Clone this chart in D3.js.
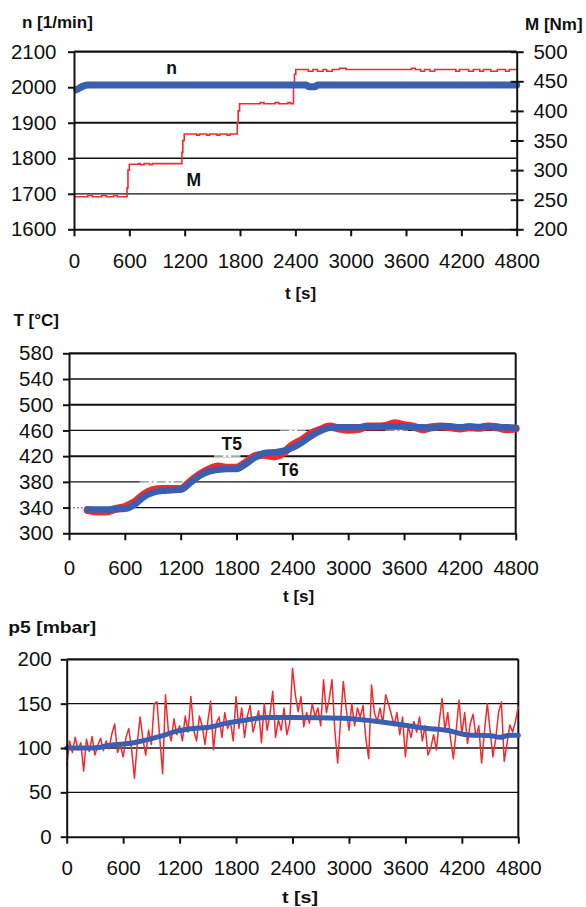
<!DOCTYPE html>
<html><head><meta charset="utf-8">
<script src="https://cdn.jsdelivr.net/npm/d3@7"></script>
<style>
html,body{margin:0;padding:0;background:#fff;}
svg{display:block;}
</style></head><body>
<svg id="c" width="586" height="907"></svg>
<script>
// ---------- DATA ----------
const timeTicks = [0,600,1200,1800,2400,3000,3600,4200,4800];

// Panel 1: speed n [1/min] (left) and torque M [Nm] (right)
const nTicks = [1600,1700,1800,1900,2000,2100];
const mTicks = [200,250,300,350,400,450,500];
const nTime  = [30,60,100,150,2520,2550,2610,2640,4800];
const nValue = [1993,1998,2003,2006,2006,2001,2001,2006,2006];
const mTime  = [0,150,200,300,350,430,470,560,575,585,600,700,720,760,820,850,1160,1170,1180,1195,
                1330,1360,1440,1470,1550,1580,1660,1690,1760,1770,1780,1795,2020,2060,2180,2220,2320,2350,
                2370,2380,2390,2405,2540,2590,2640,2700,2740,2800,2880,2950,3660,3700,3760,3800,3860,3910,
                4140,4180,4280,4330,4400,4440,4520,4590,4680,4720,4800];
const mValue = [255,257,255,257,255,257,255,255,270,300,310,311,309,311,309,311,311,330,350,361,
                359,361,359,361,359,361,359,361,361,380,400,412,414,412,414,412,414,412,
                412,440,462,470,467,470,467,470,467,470,472,470,472,470,467,470,467,470,
                467,470,467,470,467,470,467,470,467,470,470];

// Panel 2: temperatures T5 / T6 [°C]
const tempTicks = [300,340,380,420,460,500,540,580];
const tempTime  = [200,300,400,500,600,700,800,900,1000,1100,1200,1300,1400,1500,1600,1700,1800,1900,2000,
                   2100,2200,2300,2400,2500,2600,2700,2800,2900,3000,3100,3200,3300,3400,3500,3600,3700,
                   3800,3900,4000,4100,4200,4300,4400,4500,4600,4700,4800];
const t5Value = [336,334,334,338,341,348,360,367,369,369,369,380,391,399,404,402,402,410,420,
                 422,420,425,437,445,455,461,466,463,461,462,466,466,467,471,468,466,
                 462,465,466,465,463,465,464,466,465,462,463];
const t6Value = [337,337,337,337.5,338,344,356,363,366,367,368,378,389,396,399,400,400,408,418,
                 425,426,428,433,441,451,459,464,465,465,465,466,466,466,466,466,465,
                 465,464,466,466,465,466,465,466,465,465,464];
// leader segments drawn in grey on the grid of panel 2 (value, from t, to t)
const leaderValue = [340,380,420,460,460];
const leaderFrom  = [0,760,1560,2270,3400];
const leaderTo    = [230,1250,1840,2540,3640];

// Panel 3: pressure p5 [mbar]
const pTicks = [0,50,100,150,200];
const pStep = 30; // sampling interval [s]
const p5Raw = [80,108,95,112,98,106,74,110,96,113,92,103,111,97,108,99,116,127,95,104,
               90,112,122,98,66,105,135,110,92,120,104,150,152,110,71,160,120,108,133,115,
               125,108,136,118,158,120,108,136,125,104,130,153,98,128,135,112,140,122,130,108,
               158,122,145,112,136,148,118,130,142,106,150,120,138,164,112,132,120,145,115,128,
               190,160,141,158,124,140,128,150,135,145,125,177,140,155,177,120,83,130,175,145,
               120,150,125,145,135,148,110,88,171,140,130,145,128,160,150,138,125,140,115,135,
               90,125,112,130,118,135,108,125,92,100,115,98,130,156,120,140,110,88,120,154,
               115,140,105,128,138,112,125,83,118,150,120,90,110,140,152,85,105,126,118,130,147];
const pSmoothTime  = [0,280,460,710,990,1170,1350,1490,1700,1910,2120,2400,2940,3260,3580,3790,4040,4250,4530,4600,4710,4800];
const pSmoothValue = [100,100,103,106,113,119,122,123,128,131.5,134.5,134.5,133.5,130.5,126,122.5,120,115,113.5,112,114.5,114.5];

// ---------- DRAW ----------
const FONT = '"Liberation Sans", Arial, Helvetica, sans-serif';
const RED = '#f02a2e', BLUE = '#3a5eb0', INK = '#111';
const svg = d3.select('#c');

function styleAxis(g){
  g.attr('font-size',20.5).attr('font-family',FONT);
  g.select('.domain').attr('stroke',INK).attr('stroke-width',2);
  g.selectAll('.tick line').attr('stroke',INK).attr('stroke-width',2);
  g.selectAll('.tick text').attr('fill','#111');
}
function title(txt,x,y,opts={}){
  const t = svg.append('text').attr('x',x).attr('y',y).text(txt)
    .attr('font-family',FONT).attr('font-weight','bold').attr('font-size',opts.size||17).attr('fill','#111');
  if(opts.len) t.attr('textLength',opts.len).attr('lengthAdjust','spacingAndGlyphs');
  if(opts.anchor) t.attr('text-anchor',opts.anchor);
  return t;
}
function grid(x,y,vals,widths){
  vals.forEach((v,i)=>{
    svg.append('line').attr('x1',x.range()[0]).attr('x2',x.range()[1])
      .attr('y1',y(v)).attr('y2',y(v)).attr('stroke',INK).attr('stroke-width',widths[i]);
  });
}

// ===== Panel 1 =====
{
  const x = d3.scaleLinear().domain([0,4800]).range([74,516.7]);
  const yN = d3.scaleLinear().domain([1600,2100]).range([229.3,51.7]);
  const yM = d3.scaleLinear().domain([200,500]).range([229.3,51.7]);
  grid(x,yN,[1700,1800,1900,2000,2100],[1.2,1.6,1.8,1.4,2.2]);

  const mData = mTime.map((t,i)=>[t,mValue[i]]);
  svg.append('path').datum(mData)
    .attr('d',d3.line().x(d=>x(d[0])).y(d=>yM(d[1])).curve(d3.curveStepAfter))
    .attr('fill','none').attr('stroke',RED).attr('stroke-width',1.6);
  const nData = nTime.map((t,i)=>[t,nValue[i]]);
  svg.append('path').datum(nData)
    .attr('d',d3.line().x(d=>x(d[0])).y(d=>yN(d[1])).curve(d3.curveMonotoneX))
    .attr('fill','none').attr('stroke',BLUE).attr('stroke-width',7).attr('stroke-linecap','round');

  svg.append('g').attr('transform','translate(74,0)')
    .call(d3.axisLeft(yN).tickValues(nTicks).tickSize(6).tickSizeOuter(0).tickPadding(11.5).tickFormat(d3.format('d')))
    .call(styleAxis);
  svg.append('g').attr('transform','translate(0,229.3)')
    .call(d3.axisBottom(x).tickValues(timeTicks).tickSize(7).tickSizeOuter(0).tickPadding(17.5).tickFormat(d3.format('d')))
    .call(styleAxis);
  const ra = svg.append('g').attr('transform','translate(516.7,0)')
    .call(d3.axisRight(yM).tickValues(mTicks).tickSize(7).tickSizeOuter(0).tickPadding(9.7).tickFormat(d3.format('d')))
    .call(styleAxis);
  ra.selectAll('.tick').append('line').attr('x1',-6).attr('x2',0).attr('stroke',INK).attr('stroke-width',2);

  title('n [1/min]',22,28);
  title('M [Nm]',525,30);
  title('t [s]',285,298.5);
  title('n',x(1000),74,{size:17.5});
  title('M',x(1220),185.7,{size:17.5});
}

// ===== Panel 2 =====
{
  const x = d3.scaleLinear().domain([0,4800]).range([69,515.7]);
  const y = d3.scaleLinear().domain([300,580]).range([533.3,353.3]);
  grid(x,y,[340,380,420,460,500,540,580],[1.3,1.3,2,1.3,2,1.3,2.2]);
  leaderValue.forEach((v,i)=>{
    svg.append('line').attr('x1',x(leaderFrom[i])).attr('x2',x(leaderTo[i]))
      .attr('y1',y(v)).attr('y2',y(v)).attr('stroke','#fff').attr('stroke-width',2.2);
    svg.append('line').attr('x1',x(leaderFrom[i])).attr('x2',x(leaderTo[i]))
      .attr('y1',y(v)).attr('y2',y(v)).attr('stroke','#8a8a8a').attr('stroke-width',1.3)
      .attr('stroke-dasharray', i===0 ? '2,2' : '9,3,2,3');
  });
  // right frame
  svg.append('line').attr('x1',515.7).attr('x2',515.7).attr('y1',353.3).attr('y2',533.3).attr('stroke',INK).attr('stroke-width',2);

  const line = d3.line().x(d=>x(d[0])).y(d=>y(d[1])).curve(d3.curveMonotoneX);
  svg.append('path').datum(tempTime.map((t,i)=>[t,t5Value[i]])).attr('d',line)
    .attr('fill','none').attr('stroke',RED).attr('stroke-width',8).attr('stroke-linejoin','round').attr('stroke-linecap','round');
  svg.append('path').datum(tempTime.map((t,i)=>[t,t6Value[i]])).attr('d',line)
    .attr('fill','none').attr('stroke',BLUE).attr('stroke-width',6.5).attr('stroke-linejoin','round').attr('stroke-linecap','round');

  svg.append('g').attr('transform','translate(69,0)')
    .call(d3.axisLeft(y).tickValues(tempTicks).tickSize(6).tickSizeOuter(0).tickPadding(9.7).tickFormat(d3.format('d')))
    .call(styleAxis);
  svg.append('g').attr('transform','translate(0,533.3)')
    .call(d3.axisBottom(x).tickValues(timeTicks).tickSize(7).tickSizeOuter(0).tickPadding(19.7).tickFormat(d3.format('d')))
    .call(styleAxis);

  title('T [°C]',13.5,326);
  title('t [s]',283,601.5);
  title('T5',x(1640),450,{size:17.5});
  title('T6',x(2250),475.5,{size:17.5});
}

// ===== Panel 3 =====
{
  const x = d3.scaleLinear().domain([0,4800]).range([66.7,518.3]);
  const y = d3.scaleLinear().domain([0,200]).range([836.7,659.3]);
  grid(x,y,[50,100,150,200],[1.4,1.4,1.4,2.2]);
  svg.append('line').attr('x1',518.3).attr('x2',518.3).attr('y1',659.3).attr('y2',836.7).attr('stroke',INK).attr('stroke-width',2);

  svg.append('path').datum(p5Raw.map((v,i)=>[i*pStep,v]))
    .attr('d',d3.line().x(d=>x(d[0])).y(d=>y(d[1])))
    .attr('fill','none').attr('stroke',RED).attr('stroke-width',1.5).attr('stroke-linejoin','round');
  svg.append('path').datum(pSmoothTime.map((t,i)=>[t,pSmoothValue[i]]))
    .attr('d',d3.line().x(d=>x(d[0])).y(d=>y(d[1])).curve(d3.curveMonotoneX))
    .attr('fill','none').attr('stroke',BLUE).attr('stroke-width',5).attr('stroke-linecap','round');

  svg.append('g').attr('transform','translate(66.7,0)')
    .call(d3.axisLeft(y).tickValues(pTicks).tickSize(6).tickSizeOuter(0).tickPadding(9).tickFormat(d3.format('d')))
    .call(styleAxis);
  svg.append('g').attr('transform','translate(0,836.7)')
    .call(d3.axisBottom(x).tickValues(timeTicks).tickSize(7).tickSizeOuter(0).tickPadding(16.3).tickFormat(d3.format('d')))
    .call(styleAxis);

  title('p5 [mbar]',8.3,633,{len:88});
  title('t [s]',282,903,{len:36});
}
</script>
</body></html>
